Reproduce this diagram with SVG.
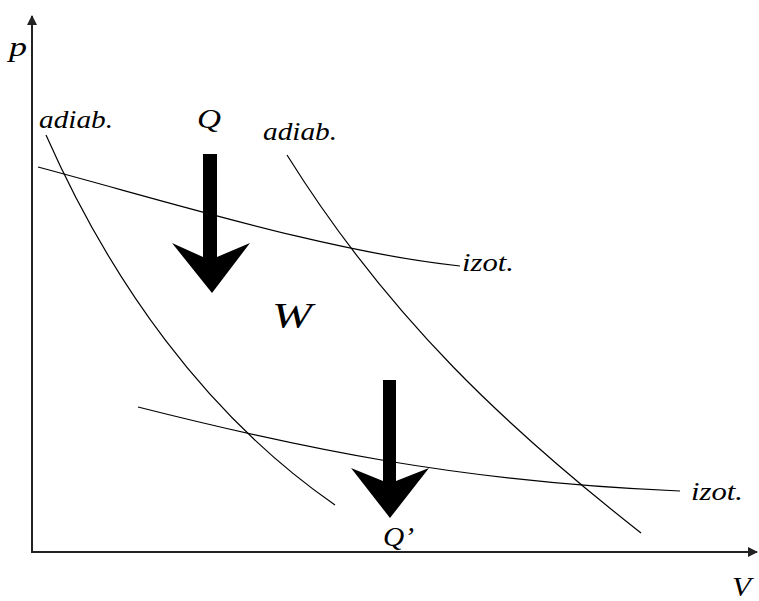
<svg xmlns="http://www.w3.org/2000/svg" width="759" height="601" viewBox="0 0 759 601">
<style>
.lbl{font-family:"Liberation Serif","DejaVu Serif",serif;font-style:italic;fill:#000}
.crv{fill:none;stroke:#000;stroke-width:1.2}
.ax{fill:none;stroke:#222;stroke-width:2}
.big{fill:#000;stroke:none}
</style>
<defs>
<marker id="ah" viewBox="0 0 10 10" refX="9" refY="5" markerWidth="5" markerHeight="5" orient="auto" markerUnits="strokeWidth">
<path d="M0,0 L10,5 L0,10 z" fill="#222"/>
</marker>
</defs>
<rect width="759" height="601" fill="#fff"/>
<g id="axes">
<line class="ax" x1="32" y1="553" x2="32" y2="16" marker-end="url(#ah)"/>
<line class="ax" x1="31" y1="552" x2="757" y2="552" marker-end="url(#ah)"/>
<text class="lbl" x="9" y="56" font-size="28" textLength="18" lengthAdjust="spacingAndGlyphs">p</text>
<text class="lbl" x="732" y="596" font-size="28" textLength="19" lengthAdjust="spacingAndGlyphs">V</text>
</g>
<g id="connectors">
<path id="adiab1" class="crv" d="M46,135 C110,280 205,415 335,505"/>
<path id="adiab2" class="crv" d="M287,155 C390,320 510,430 641,533"/>
<path id="izot1" class="crv" d="M38,167 C180,205 330,252 460,266"/>
<path id="izot2" class="crv" d="M138,407 C300,448 460,482 680,491"/>
</g>
<g id="labels">
<text class="lbl" x="39" y="128" font-size="25" textLength="74" lengthAdjust="spacingAndGlyphs">adiab.</text>
<text class="lbl" x="263" y="140" font-size="25" textLength="74" lengthAdjust="spacingAndGlyphs">adiab.</text>
<text class="lbl" x="462" y="271" font-size="25" textLength="52" lengthAdjust="spacingAndGlyphs">izot.</text>
<text class="lbl" x="691" y="500" font-size="25" textLength="52" lengthAdjust="spacingAndGlyphs">izot.</text>
<text class="lbl" x="272" y="328" font-size="36" textLength="40" lengthAdjust="spacingAndGlyphs">W</text>
</g>
<g id="Q">
<path class="big" d="M203,154 L217,154 L217,257 L250,243 L212,293 L172,243 L203,257 z"/>
<text class="lbl" x="197" y="128" font-size="28" textLength="24" lengthAdjust="spacingAndGlyphs">Q</text>
</g>
<g id="Qp">
<path class="big" d="M383,380 L396,380 L396,481 L429,468 L390,518 L351,468 L383,481 z"/>
<text class="lbl" x="383" y="546" font-size="28" textLength="31" lengthAdjust="spacingAndGlyphs">Q’</text>
</g>
</svg>
